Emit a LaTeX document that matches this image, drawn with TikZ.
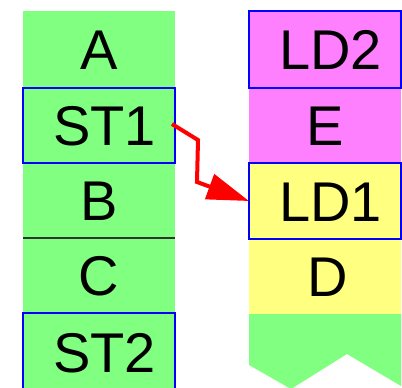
\documentclass[tikz,border=0pt]{standalone}
\usepackage{fontspec}
\setmainfont{Liberation Sans}
\usetikzlibrary{arrows.meta}
\definecolor{cellgreen}{RGB}{128,255,128}
\definecolor{cellpink}{RGB}{255,128,255}
\definecolor{cellyellow}{RGB}{255,255,128}
\begin{document}
\begin{tikzpicture}[x=1bp,y=-1bp,
  cell/.style={rectangle, anchor=north west, minimum width=152bp,
    minimum height=#1, inner sep=0pt, outer sep=0pt,
    font=\fontsize{56bp}{60bp}\selectfont, text height=40bp, text depth=0pt},
  cell/.default=75bp,
  padded/.style={execute at begin node={\hspace*{11bp}}},
  framed/.style={draw=blue, line width=2.5bp, padded},
  jump/.style={draw=red, line width=4bp,
    -{Triangle[length=42bp,width=26bp]}}]
\clip (0,0) rectangle (402,388);

% left stack
\node[cell=77bp, fill=cellgreen] (A) at (23,11) {A};
\node[cell, fill=cellgreen] (B) at (23,163) {B};
\node[cell, fill=cellgreen] (C) at (23,238) {C};
\node[cell, fill=cellgreen, framed] (ST1) at (23,88) {ST1};
\node[cell=78bp, fill=cellgreen, framed] (ST2) at (23,313) {ST2};
\draw[black!80, line width=1.2bp] (B.south west) -- (B.south east);

% right stack
\node[cell=75bp, fill=cellpink] (E) at (249,88) {E};
\node[cell, fill=cellyellow, execute at begin node={\hspace*{5bp}}] (D) at (249,239) {D};
\node[cell=77bp, fill=cellpink, framed] (LD2) at (249,11) {LD2};
\node[cell=76bp, fill=cellyellow, framed] (LD1) at (249,163) {LD1};
\fill[cellgreen] (D.south west) -- (D.south east) -- (401,386) -- (347,354)
  -- (291,389) -- (249,365) -- cycle;

% store-to-load link
\draw[jump] ([xshift=-3bp,yshift=1.5bp]ST1.east) -- (198,140) -- (197,182) -- (LD1.west);
\end{tikzpicture}
\end{document}
